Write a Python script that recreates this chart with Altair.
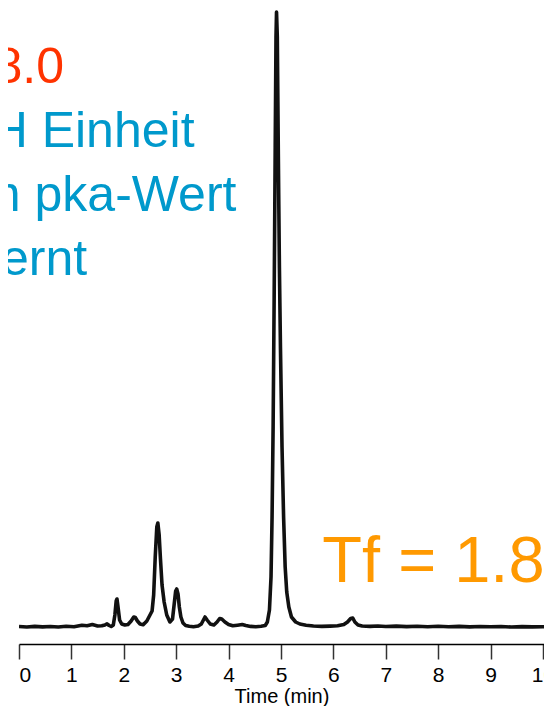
import altair as alt
import pandas as pd

# Chromatogram trace (time in min, signal in arbitrary units above baseline)
time_min = [
    0.00, 0.15, 0.30, 0.45, 0.60, 0.75, 0.90, 1.05, 1.20, 1.30, 1.40, 1.50, 1.58, 1.64, 1.68, 1.72,
    1.76, 1.80, 1.83, 1.855, 1.87, 1.89, 1.92, 1.96, 2.02, 2.08, 2.14, 2.19, 2.22, 2.26, 2.31, 2.37,
    2.44, 2.50, 2.54, 2.57, 2.60, 2.63, 2.65, 2.675, 2.70, 2.73, 2.77, 2.82, 2.88, 2.93, 2.96, 2.99,
    3.01, 3.035, 3.06, 3.09, 3.13, 3.18, 3.25, 3.33, 3.42, 3.48, 3.52, 3.55, 3.59, 3.65, 3.72, 3.78,
    3.83, 3.87, 3.93, 4.00, 4.08, 4.17, 4.26, 4.33, 4.42, 4.52, 4.62, 4.70, 4.74, 4.78, 4.81, 4.83,
    4.85, 4.87, 4.89, 4.905, 4.915, 4.93, 4.95, 4.97, 4.99, 5.02, 5.05, 5.08, 5.11, 5.15, 5.20, 5.28,
    5.36, 5.48, 5.62, 5.78, 5.94, 6.08, 6.20, 6.27, 6.33, 6.37, 6.41, 6.47, 6.55, 6.70, 6.85, 7.00,
    7.20, 7.40, 7.60, 7.80, 8.00, 8.20, 8.40, 8.60, 8.80, 9.00, 9.20, 9.40, 9.60, 9.80, 10.00, 10.20,
]
signal = [
    0.5, 0.0, 0.6, 0.1, 0.5, 0.0, 0.7, 0.3, 1.8, 1.2, 2.4, 1.0, 1.2, 2.0, 3.2, 1.5,
    0.5, 2.0, 12, 26, 28, 20, 7, 3, 2.0, 2.5, 6, 10, 9.5, 6, 3, 2.2,
    6, 12, 16, 32, 70, 100, 104, 92, 68, 42, 25, 12, 5, 8, 22, 36,
    38, 33, 20, 10, 4, 1.5, 0.8, 0.3, 1.0, 3, 7, 10, 7, 3, 2.0, 5,
    8.5, 8, 5, 2.5, 1.2, 1.8, 2.5, 1.5, 0.6, 0.3, 0.8, 1.5, 5, 17, 50, 110,
    200, 330, 480, 590, 615, 590, 470, 360, 280, 180, 110, 60, 35, 20, 10, 5,
    3, 1.8, 1.0, 0.6, 0.9, 1.2, 2.5, 5, 8.5, 9, 5, 2, 1.0, 0.6, 1.0, 0.5,
    0.9, 0.4, 0.8, 0.3, 0.7, 0.2, 0.6, 0.1, 0.5, 0.2, 0.5, 0.0, 0.4, 0.1, 0.3, 0.0,
]

x_ticks = [0, 1, 2, 3, 4, 5, 6, 7, 8, 9, 10]

# Annotations
note_text = ["pH 8.0", "1 pH Einheit", "vom pka-Wert", "entfernt"]
note_color = ["#FF3300", "#0099CC", "#0099CC", "#0099CC"]
note_x = [0.86, 3.35, 4.15, 1.30]
note_y = [544, 480, 416, 352]

tf_text = ["Tf = 1.8"]
tf_x = [5.79]
tf_y = [45]

trace = pd.DataFrame({"t": time_min, "s": signal})
notes = pd.DataFrame({"label": note_text, "color": note_color, "t": note_x, "s": note_y})
tf = pd.DataFrame({"label": tf_text, "t": tf_x, "s": tf_y})

X_DOMAIN = [0, 10.02]
Y_DOMAIN = [-17, 619]

xscale = alt.Scale(domain=X_DOMAIN, nice=False, zero=False)
yscale = alt.Scale(domain=Y_DOMAIN, nice=False, zero=False)

line = alt.Chart(trace).mark_line(
    color="#111111", strokeWidth=3.6, strokeJoin="round", clip=True
).encode(
    x=alt.X("t:Q", scale=xscale,
            axis=alt.Axis(title="Time (min)", values=x_ticks, format="d", grid=False)),
    y=alt.Y("s:Q", scale=yscale, axis=None),
)

note_marks = alt.Chart(notes).mark_text(
    align="right", baseline="alphabetic", fontSize=50, font="Liberation Sans"
).encode(
    x=alt.X("t:Q", scale=xscale),
    y=alt.Y("s:Q", scale=yscale),
    text="label:N",
    color=alt.Color("color:N", scale=None),
)

tf_mark = alt.Chart(tf).mark_text(
    align="left", baseline="alphabetic", fontSize=65, font="Liberation Sans", color="#FF9900"
).encode(
    x=alt.X("t:Q", scale=xscale),
    y=alt.Y("s:Q", scale=yscale),
    text="label:N",
)

chart = alt.layer(line, note_marks, tf_mark).properties(
    width=525,
    height=636,
    autosize=alt.AutoSizeParams(type="none"),
    padding={"left": 11, "top": 0, "right": 0, "bottom": 62},
).configure_view(stroke=None).configure_axis(
    domainColor="#000000",
    domainWidth=1.5,
    tickColor="#333333",
    tickWidth=1.5,
    tickSize=15,
    labelFont="Liberation Sans",
    labelFontSize=21,
    labelColor="#000000",
    labelPadding=5,
    titleFont="Liberation Sans",
    titleFontSize=20,
    titleFontWeight="normal",
    titleColor="#000000",
    titlePadding=1,
)

chart.save("out.html", embed_options={"renderer": "svg", "actions": False})
